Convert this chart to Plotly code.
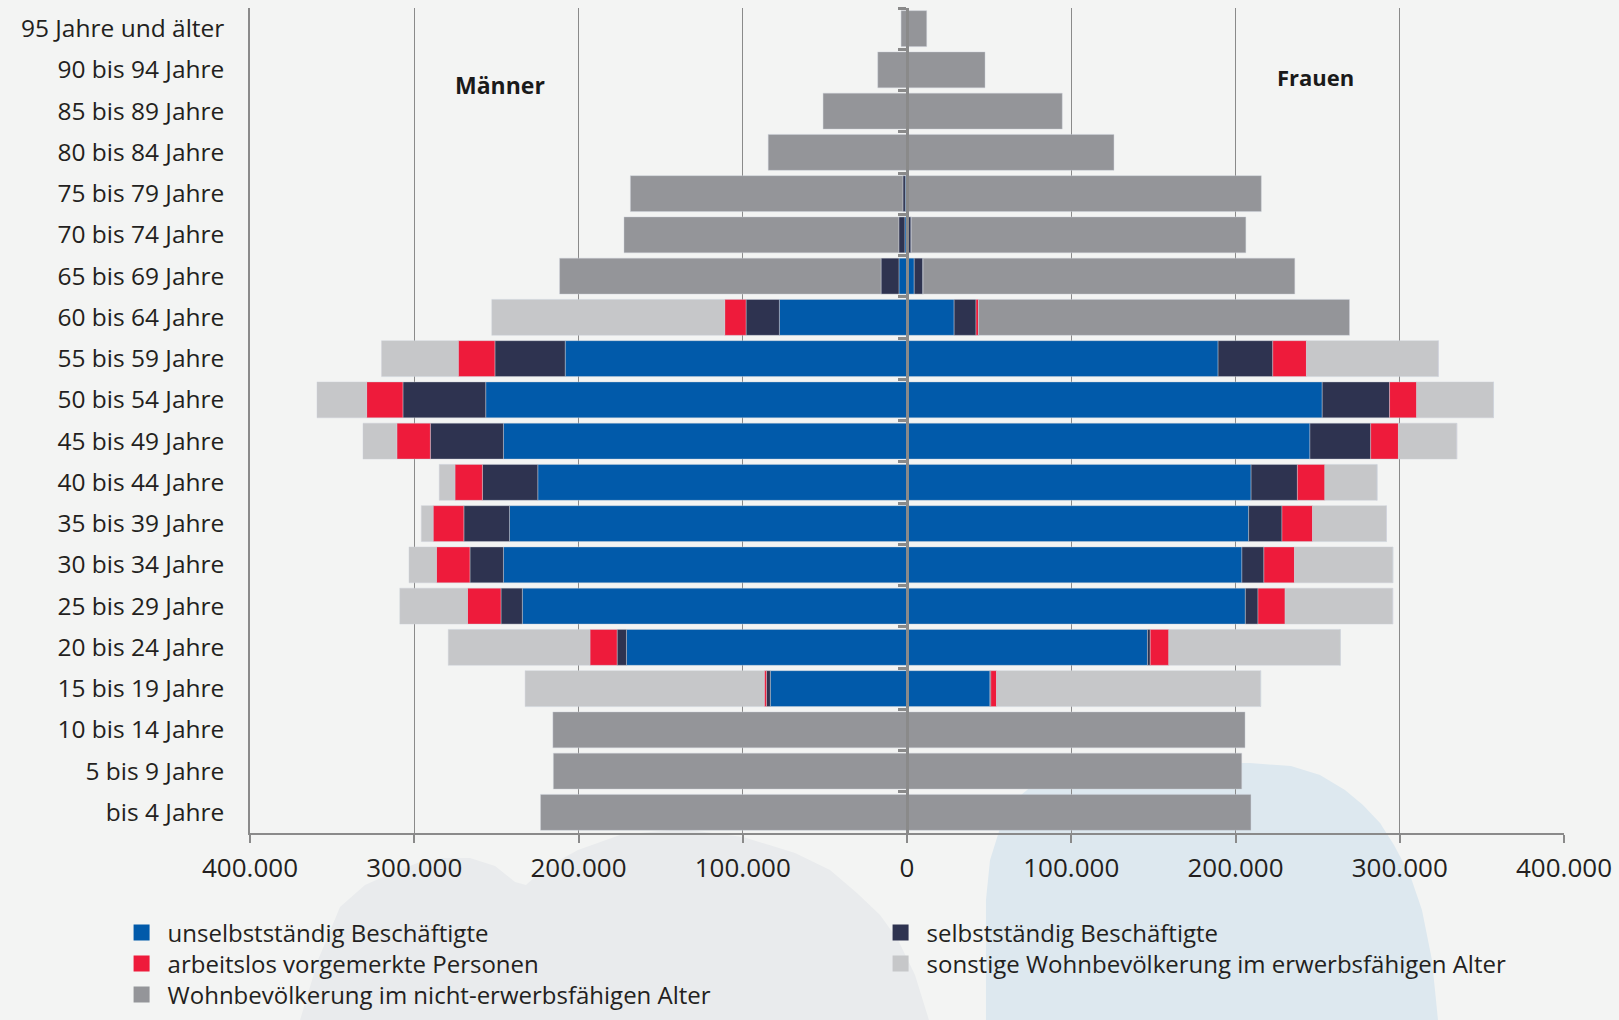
import plotly.graph_objects as go

# ---------------- data ----------------
ages = ["95 Jahre und älter", "90 bis 94 Jahre", "85 bis 89 Jahre", "80 bis 84 Jahre",
        "75 bis 79 Jahre", "70 bis 74 Jahre", "65 bis 69 Jahre", "60 bis 64 Jahre",
        "55 bis 59 Jahre", "50 bis 54 Jahre", "45 bis 49 Jahre", "40 bis 44 Jahre",
        "35 bis 39 Jahre", "30 bis 34 Jahre", "25 bis 29 Jahre", "20 bis 24 Jahre",
        "15 bis 19 Jahre", "10 bis 14 Jahre", "5 bis 9 Jahre", "bis 4 Jahre"]

series_names = ["unselbstständig Beschäftigte", "selbstständig Beschäftigte",
                "arbeitslos vorgemerkte Personen",
                "sonstige Wohnbevölkerung im erwerbsfähigen Alter",
                "Wohnbevölkerung im nicht-erwerbsfähigen Alter"]

# Männer
men_unselbst = [0, 0, 0, 0, 1000, 1300, 4900, 77700, 208100, 256500, 245700, 224800,
                242000, 245700, 234200, 170800, 83200, 0, 0, 0]
men_selbst = [0, 0, 0, 0, 1500, 3700, 10900, 20300, 42800, 50400, 44500, 33700,
              27800, 20400, 13000, 5700, 2400, 0, 0, 0]
men_arbeitslos = [0, 0, 0, 0, 0, 0, 0, 13000, 22300, 22100, 20400, 16700,
                  18700, 20400, 20400, 16500, 1300, 0, 0, 0]
men_sonstige = [0, 0, 0, 0, 0, 0, 0, 141800, 46700, 30200, 20600, 9600,
                7200, 16700, 41200, 86300, 145600, 0, 0, 0]
men_nicht = [3600, 17800, 51100, 84500, 165900, 167300, 195700, 0, 0, 0, 0, 0,
             0, 0, 0, 0, 0, 215600, 215300, 223100]

# Frauen
women_unselbst = [0, 0, 0, 0, 0, 600, 4400, 28700, 189400, 252800, 245300, 209500,
                  208000, 203900, 206000, 146400, 50500, 0, 0, 0]
women_selbst = [0, 0, 0, 0, 800, 2000, 5400, 13300, 33300, 41000, 37000, 28200,
                20300, 13400, 7700, 1700, 500, 0, 0, 0]
women_arbeitslos = [0, 0, 0, 0, 0, 0, 0, 1600, 20500, 16500, 16900, 16700,
                    18600, 18600, 16500, 11300, 3500, 0, 0, 0]
women_sonstige = [0, 0, 0, 0, 0, 0, 0, 0, 80300, 46800, 35500, 31800,
                  45000, 59900, 65500, 104400, 160800, 0, 0, 0]
women_nicht = [12000, 47500, 94500, 126000, 214900, 203700, 226300, 225800, 0, 0, 0, 0,
               0, 0, 0, 0, 0, 205800, 203800, 209400]

tick_vals = [-400000, -300000, -200000, -100000, 0, 100000, 200000, 300000, 400000]
tick_text = ["400.000", "300.000", "200.000", "100.000", "0",
             "100.000", "200.000", "300.000", "400.000"]

# ---------------- style ----------------
colors = ["#015aaa", "#2e3350", "#ee1b3b", "#c6c7c9", "#949599"]
legend_rows = ["legend", "legend", "legend2", "legend2", "legend3"]
bg = "#f3f4f3"
axis_gray = "#8a8a8a"
text_col = "#231f20"
FONT = "Open Sans"

men_series = [men_unselbst, men_selbst, men_arbeitslos, men_sonstige, men_nicht]
women_series = [women_unselbst, women_selbst, women_arbeitslos, women_sonstige, women_nicht]

fig = go.Figure()
bar_line = dict(color="rgba(205,210,218,0.7)", width=0.6)
for name, col, vals in zip(series_names, colors, men_series):
    fig.add_trace(go.Bar(y=ages, x=[-v for v in vals], orientation="h", name=name,
                         marker=dict(color=col, line=bar_line), showlegend=False,
                         yaxis="y", hoverinfo="skip"))
for name, col, vals in zip(series_names, colors, women_series):
    fig.add_trace(go.Bar(y=ages, x=vals, orientation="h", name=name,
                         marker=dict(color=col, line=bar_line), showlegend=False,
                         yaxis="y2", hoverinfo="skip"))
# legend entries
for name, col, lg in zip(series_names, colors, legend_rows):
    fig.add_trace(go.Scatter(x=[None], y=[None], mode="markers", name=name,
                             marker=dict(symbol="square", size=16, color=col),
                             showlegend=True, legend=lg))

# ---------------- layout geometry (pixels) ----------------
W, H = 1619, 1020
ML, MR, MT, MB = 250, 55, 8, 187
PW = W - ML - MR
PH = H - MT - MB


def to_paper(pts):
    return [((x - ML) / PW, (H - MB - y) / PH) for x, y in pts]


def path_from(pts):
    pp = to_paper(pts)
    s = "M {:.4f},{:.4f}".format(*pp[0])
    for p in pp[1:]:
        s += " L {:.4f},{:.4f}".format(*p)
    return s + " Z"


def py(ypix):
    return (H - MB - ypix) / PH


gray_blob = [(300, 1020), (318, 960), (340, 907), (365, 885), (392, 873), (420, 862),
             (444, 858), (470, 858), (495, 866), (515, 882), (526, 885), (545, 868),
             (578, 850), (620, 835), (681, 829), (743, 837), (795, 853), (830, 870),
             (857, 893), (880, 915), (898, 940), (915, 975), (929, 1020)]
blue_blob = [(986, 1020), (986, 900), (990, 860), (1000, 828), (1015, 800), (1033, 785),
             (1074, 772), (1136, 766), (1200, 763), (1250, 763), (1291, 766), (1320, 775),
             (1345, 790), (1363, 805), (1380, 823), (1394, 845), (1410, 875), (1422, 910),
             (1432, 960), (1438, 1020)]

shapes = [
    dict(type="path", xref="paper", yref="paper", path=path_from(gray_blob),
         fillcolor="#e9ebed", line=dict(width=0), layer="below"),
    dict(type="path", xref="paper", yref="paper", path=path_from(blue_blob),
         fillcolor="#dde8ef", line=dict(width=0), layer="below"),
]

leg_common = dict(orientation="h", x=-0.1023, xanchor="left", yanchor="top",
                  entrywidth=702, entrywidthmode="pixels", itemwidth=42,
                  font=dict(family=FONT, size=24, color=text_col),
                  bgcolor="rgba(0,0,0,0)", itemclick=False, itemdoubleclick=False)

fig.update_layout(
    width=W, height=H,
    margin=dict(l=ML, r=MR, t=MT, b=MB, autoexpand=False),
    paper_bgcolor=bg, plot_bgcolor="rgba(0,0,0,0)",
    barmode="relative", bargap=0.13,
    font=dict(family=FONT, color=text_col),
    shapes=shapes,
    xaxis=dict(range=[-400000, 400000], tickvals=tick_vals, ticktext=tick_text,
               showgrid=True, gridcolor=axis_gray, gridwidth=1.3, zeroline=False,
               showline=True, linecolor=axis_gray, linewidth=2,
               ticks="outside", ticklen=8, tickwidth=1.5, tickcolor=axis_gray,
               tickfont=dict(family=FONT, size=26, color=text_col),
               ticklabelstandoff=3, fixedrange=True),
    yaxis=dict(type="category", categoryorder="array", categoryarray=ages,
               autorange="reversed", showgrid=False, zeroline=False,
               showline=True, linecolor=axis_gray, linewidth=1.5, ticks="",
               tickfont=dict(family=FONT, size=24.5, color=text_col),
               ticklabelstandoff=19, fixedrange=True),
    yaxis2=dict(type="category", categoryorder="array", categoryarray=ages,
                autorange="reversed", overlaying="y", anchor="free", position=0.5,
                side="left", showgrid=False, zeroline=False, showticklabels=False,
                showline=True, linecolor=axis_gray, linewidth=3,
                ticks="outside", tickson="boundaries", ticklen=8, tickwidth=2.5,
                tickcolor=axis_gray, layer="above traces", fixedrange=True),
    legend=dict(leg_common, y=py(910.4)),
    legend2=dict(leg_common, y=py(941.4)),
    legend3=dict(leg_common, y=py(972.3)),
    annotations=[
        dict(text="<b>Männer</b>", x=-248000, xref="x", y=py(84.7), yref="paper",
             xanchor="center", yanchor="middle", showarrow=False,
             font=dict(family=FONT, size=23, color="#1a1a1a")),
        dict(text="<b>Frauen</b>", x=248700, xref="x", y=py(77.4), yref="paper",
             xanchor="center", yanchor="middle", showarrow=False,
             font=dict(family=FONT, size=22, color="#1a1a1a")),
    ],
)

fig.write_html("out.html", config={"displayModeBar": False},
               post_script="document.body.style.margin='0';document.body.style.padding='0';")
